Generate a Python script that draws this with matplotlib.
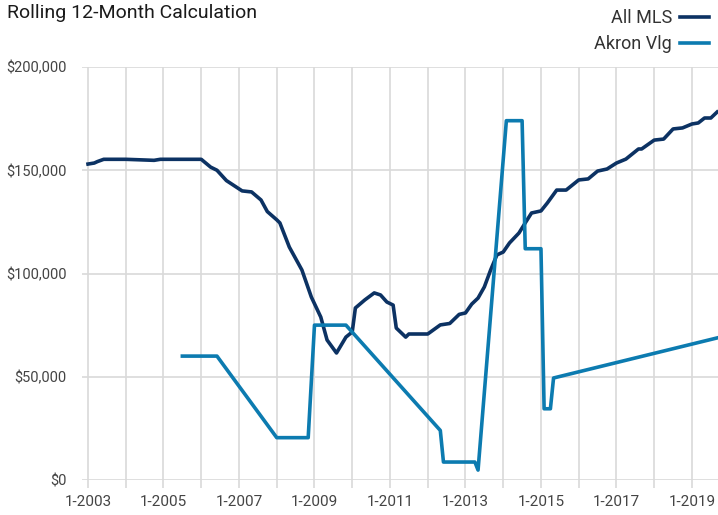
import pandas as pd
import matplotlib
matplotlib.use("Agg")
import matplotlib.pyplot as plt

# All MLS rolling 12-month values
mls_dates = [
    "2003-01", "2003-03", "2003-04", "2003-06", "2004-01", "2004-10", "2004-12",
    "2006-01", "2006-04", "2006-06", "2006-09", "2007-02", "2007-05", "2007-08",
    "2007-10", "2008-01", "2008-02", "2008-05", "2008-09", "2008-12", "2009-03",
    "2009-05", "2009-08", "2009-11", "2010-01", "2010-02", "2010-05", "2010-08",
    "2010-10", "2010-12", "2011-02", "2011-03", "2011-06", "2011-07", "2012-01",
    "2012-05", "2012-08", "2012-11", "2013-01", "2013-03", "2013-05", "2013-07",
    "2013-09", "2013-11", "2014-01", "2014-03", "2014-06", "2014-08", "2014-10",
    "2015-01", "2015-03", "2015-06", "2015-09", "2016-01", "2016-04", "2016-07",
    "2016-10", "2017-01", "2017-04", "2017-08", "2017-09", "2018-01", "2018-04",
    "2018-07", "2018-10", "2019-01", "2019-03", "2019-05", "2019-07", "2019-09",
]
mls_values = [
    153000, 153500, 154200, 155300, 155300, 154800, 155300,
    155300, 151500, 150000, 145000, 140000, 139500, 135600,
    130000, 126000, 124500, 112800, 101700, 88600, 78900,
    67800, 61500, 69200, 71700, 83300, 87200, 90600,
    89600, 86200, 84700, 73600, 69200, 70700, 70700,
    75100, 75800, 80200, 80900, 85200, 88100, 93500,
    101700, 109000, 110400, 114800, 119600, 124500, 129300,
    130300, 134100, 140400, 140400, 145300, 145800, 149600,
    150600, 153500, 155400, 160300, 160300, 164600, 165100,
    170000, 170500, 172400, 172900, 175300, 175300, 178200,
]

# Akron Vlg rolling 12-month values
akron_dates = [
    "2005-07", "2006-06", "2008-01", "2008-11", "2009-01", "2009-11",
    "2012-05", "2012-06", "2013-04", "2013-05", "2014-02", "2014-07",
    "2014-08", "2015-01", "2015-02", "2015-04", "2015-05", "2019-09",
]
akron_values = [
    60000, 60000, 20500, 20500, 75000, 75000,
    24000, 8700, 8700, 4800, 174000, 174000,
    112000, 112000, 34500, 34500, 49400, 68800,
]

y_ticks = [0, 50000, 100000, 150000, 200000]
y_labels = ["$0", "$50,000", "$100,000", "$150,000", "$200,000"]
tick_years = list(range(2003, 2020))


def to_year(dates):
    d = pd.to_datetime(dates)
    return d.year + (d.month - 1) / 12.0


plt.rcParams['font.family'] = ['Roboto', 'DejaVu Sans']

fig = plt.figure(figsize=(7.18, 5.15), dpi=100)
ax = fig.add_axes([82 / 718, 35 / 515, 636 / 718, 413 / 515])

ax.plot(to_year(mls_dates), mls_values, color='#0c3263', lw=2.6,
        label='All MLS', solid_joinstyle='round', zorder=3)
ax.plot(to_year(akron_dates), akron_values, color='#0c7bb0', lw=2.6,
        label='Akron Vlg', solid_joinstyle='round', zorder=3)

ax.set_xlim(2003 - 6 / 37.75, 2019.69)
ax.set_ylim(0, 200000)

ax.set_xticks(tick_years)
ax.set_xticklabels(["1-%d" % y if y % 2 == 1 else "" for y in tick_years])
ax.set_yticks(y_ticks)
ax.set_yticklabels(y_labels)

ax.grid(True, color='#d9d9d9', lw=1.2)
ax.set_axisbelow(True)
for s in ax.spines.values():
    s.set_visible(False)

ax.tick_params(axis='x', colors='#d9d9d9', length=6, width=1.2, pad=5,
               labelcolor='#444444', labelsize=11)
ax.tick_params(axis='y', length=0, pad=11, labelcolor='#444444', labelsize=10.5)

fig.text(7 / 718, 1 - 13 / 515, "Rolling 12-Month Calculation", fontsize=14,
         color='#1a1a1a', va='center', ha='left')

fig.legend(loc='upper right', bbox_to_anchor=(1.0, 1.0), markerfirst=False,
           frameon=False, fontsize=13, handlelength=1.6, labelspacing=0.45,
           borderaxespad=0.1, handletextpad=0.45, labelcolor='#333333')

fig.savefig('out.png', dpi=100)
